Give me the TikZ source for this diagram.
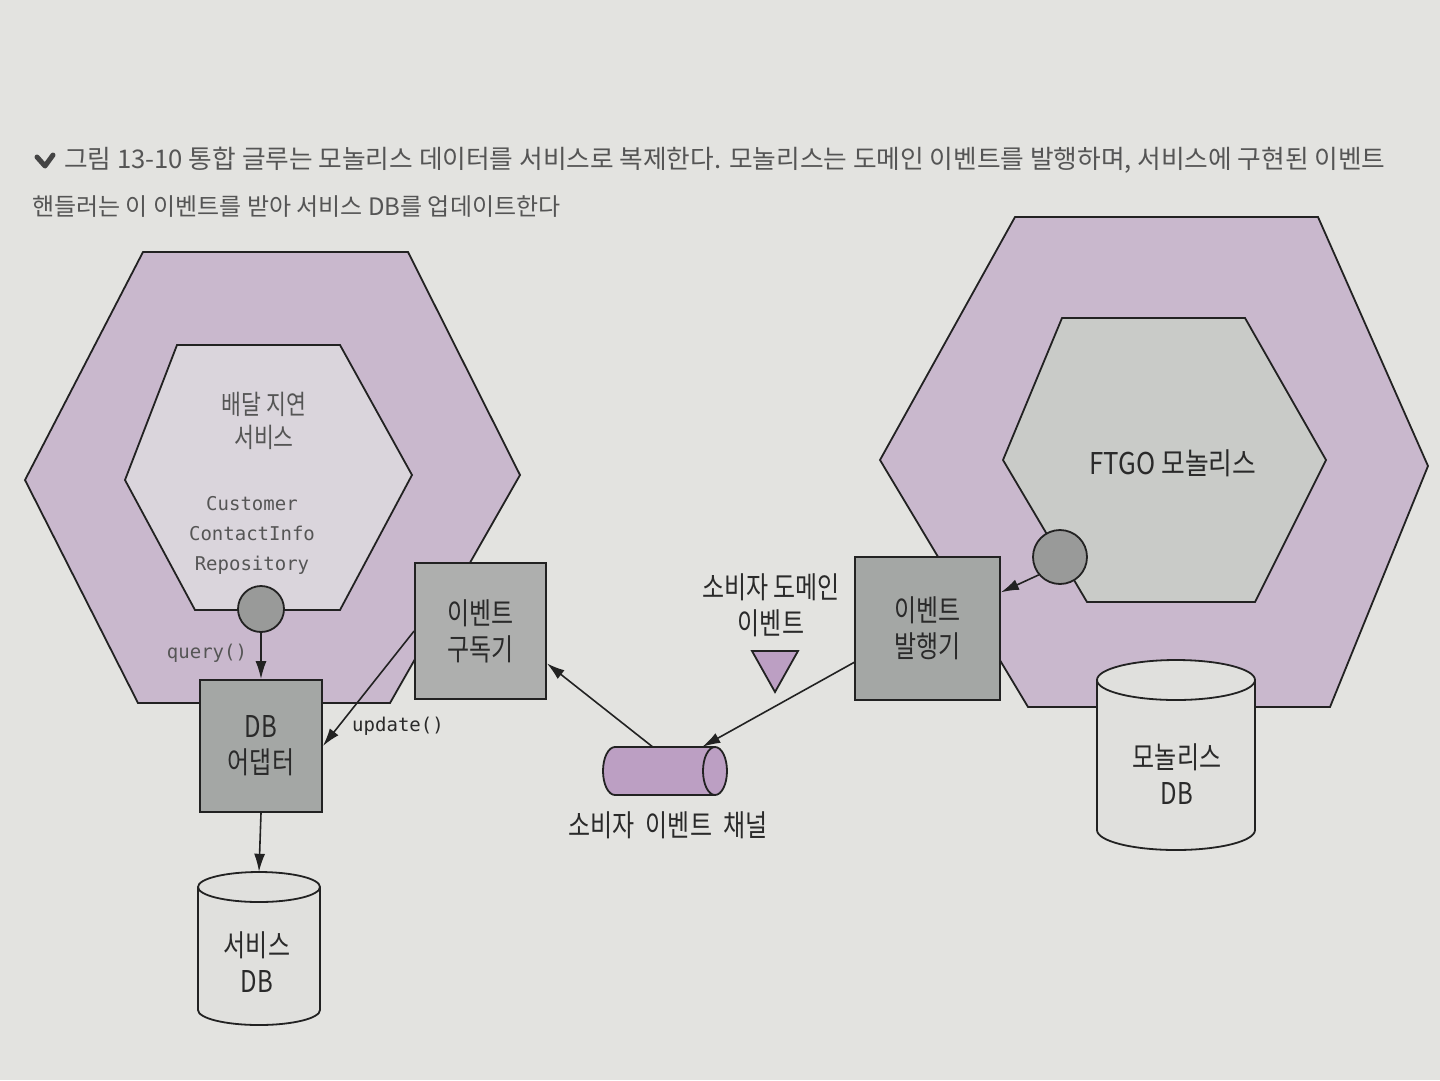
\documentclass[tikz,border=0pt]{standalone}
\usepackage{fontspec}
\newfontfamily\krfont{Noto Sans CJK KR}[FakeStretch=0.8]
\newfontfamily\krwide{Noto Sans CJK KR}[FakeStretch=0.86]
\newfontfamily\capfont{Noto Sans CJK KR}
\setmonofont{DejaVu Sans Mono}
\usetikzlibrary{arrows.meta,calc}
\definecolor{paper}{HTML}{E3E3E0}
\definecolor{hexpurple}{HTML}{C9B8CD}
\definecolor{innerL}{HTML}{DAD5DC}
\definecolor{innerR}{HTML}{C9CBC8}
\definecolor{boxgray}{HTML}{AEAFAE}
\definecolor{boxdark}{HTML}{A4A7A5}
\definecolor{circgray}{HTML}{999A99}
\definecolor{chanpurple}{HTML}{BC9FC3}
\definecolor{cylfill}{HTML}{E0E0DD}
\definecolor{txtdark}{HTML}{2A2A2A}
\definecolor{txtsoft}{HTML}{555555}
\definecolor{linec}{HTML}{222222}
\tikzset{
  outline/.style={draw=linec, line width=1.8pt, line join=miter},
  lbl/.style={font=\krfont\fontsize{30}{36}\selectfont, text=txtdark, align=center, inner sep=0pt},
  softlbl/.style={font=\krfont\fontsize{27}{33}\selectfont, text=txtsoft, align=center, inner sep=0pt},
  monolbl/.style={font=\ttfamily\fontsize{19}{30}\selectfont, align=center, inner sep=0pt},
  boxnode/.style={outline, inner sep=0pt, align=center, font=\krfont\fontsize{30}{36}\selectfont, text=txtdark},
  ghost/.style={inner sep=0pt, draw=none},
  conn/.style={draw=linec, line width=1.6pt, -{Latex[length=18pt,width=11pt]}},
  capt/.style={text=txtsoft, inner sep=0pt, anchor=west},
}
\begin{document}
\begin{tikzpicture}[x=1pt,y=-1pt]
\useasboundingbox (0,0) rectangle (1440,1080);
\fill[paper] (0,0) rectangle (1440,1080);

% caption
\draw[txtsoft!80!black, line width=5pt, line join=round, line cap=round] (37,157) -- (45,166) -- (53,155);
\node[capt, font=\capfont\fontsize{25.7}{30}\selectfont] (cap1) at (64,160) {그림 13-10 통합 글루는 모놀리스 데이터를 서비스로 복제한다. 모놀리스는 도메인 이벤트를 발행하며, 서비스에 구현된 이벤트};
\node[capt, font=\capfont\fontsize{24}{30}\selectfont] (cap2) at (32,207) {핸들러는 이 이벤트를 받아 서비스 DB를 업데이트한다};

% left hexagons
\draw[outline, fill=hexpurple] (143,252) -- (408,252) -- (520,475) -- (390,703) -- (138,703) -- (25,480) -- cycle;
\draw[outline, fill=innerL] (177,345) -- (340,345) -- (412,475) -- (340,610) -- (195,610) -- (125,480) -- cycle;
\node[softlbl] (svcname) at (264,421) {배달 지연\\서비스};
\node[monolbl, text=txtsoft] (repo) at (252,535) {Customer\\ContactInfo\\Repository};
\node[circle, outline, fill=circgray, minimum size=46pt, inner sep=0pt] (lc) at (261,609) {};

% right hexagons
\draw[outline, fill=hexpurple] (1015,217) -- (1318,217) -- (1428,466) -- (1330,707) -- (1028,707) -- (880,460) -- cycle;
\draw[outline, fill=innerR] (1062,318) -- (1245,318) -- (1326,460) -- (1255,602) -- (1087,602) -- (1003,460) -- cycle;
\node[lbl, font=\krwide\fontsize{30}{36}\selectfont] (ftgo) at (1173,463) {FTGO 모놀리스};
\node[circle, outline, fill=circgray, minimum size=54pt, inner sep=0pt] (rc) at (1060,557) {};

% boxes
\node[boxnode, fill=boxgray, minimum width=131pt, minimum height=136pt] (sub) at (480.5,631) {이벤트\\구독기};
\node[boxnode, fill=boxdark, minimum width=122pt, minimum height=132pt] (adapter) at (261,746) {DB\\어댑터};
\node[boxnode, fill=boxdark, minimum width=145pt, minimum height=143pt] (pub) at (927.5,628.5) {이벤트\\발행기};

% service DB cylinder
\fill[cylfill] (198,887) -- (198,1010) arc[start angle=180, end angle=0, x radius=61, y radius=15] -- (320,887) -- cycle;
\draw[outline] (198,887) -- (198,1010) arc[start angle=180, end angle=0, x radius=61, y radius=15] -- (320,887);
\draw[outline, fill=cylfill] (259,887) ellipse[x radius=61, y radius=15];
\node[ghost, minimum width=122pt, minimum height=153pt] (sdb) at (259,948.5) {};
\node[lbl] (sdbtxt) at (257,962) {서비스\\DB};

% monolith DB cylinder
\fill[cylfill] (1097,680) -- (1097,830) arc[start angle=180, end angle=0, x radius=79, y radius=20] -- (1255,680) -- cycle;
\draw[outline] (1097,680) -- (1097,830) arc[start angle=180, end angle=0, x radius=79, y radius=20] -- (1255,680);
\draw[outline, fill=cylfill] (1176,680) ellipse[x radius=79, y radius=20];
\node[ghost, minimum width=158pt, minimum height=190pt] (mdb) at (1176,755) {};
\node[lbl] (mdbtxt) at (1177,774) {모놀리스\\DB};

% channel (horizontal cylinder)
\draw[outline, fill=chanpurple] (715,747) -- (615,747) arc[start angle=270, end angle=90, x radius=12, y radius=24] -- (715,795);
\draw[outline, fill=chanpurple] (715,771) ellipse[x radius=12, y radius=24];
\node[ghost, minimum width=124pt, minimum height=48pt] (chan) at (665,771) {};
\node[lbl] (chantxt) at (668,825) {소비자\hspace{6pt} 이벤트\hspace{6pt} 채널};

% domain event
\node[lbl] (evtxt) at (771,605) {소비자 도메인\\이벤트};
\draw[outline, fill=chanpurple] (752,651) -- (798,651) -- (775,692) -- cycle;

% connectors
\draw[conn] (lc.south) -- (lc.south |- adapter.north);
\node[monolbl, text=txtsoft] (qlbl) at (207,653) {query()};
\draw[conn] (sub.west) -- (adapter.east);
\node[monolbl, text=txtdark] (ulbl) at (398,726) {update()};
\draw[conn] (adapter.south) -- (sdb.north);
\draw[conn] ($(chan.north west)!0.4!(chan.north east)$) -- ($(sub.south east)!0.265!(sub.north east)$);
\draw[conn] ($(pub.south west)!0.266!(pub.north west)$) -- ($(chan.north west)!0.8!(chan.north east)$);
\draw[conn] (rc.220) -- ($(pub.north east)!0.25!(pub.south east)$);
\end{tikzpicture}
\end{document}
